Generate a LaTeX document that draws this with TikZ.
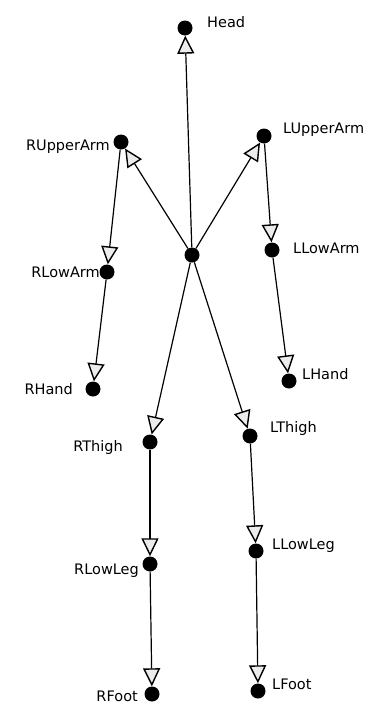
\documentclass[tikz,border=0pt]{standalone}
\usepackage{fontspec}
\setmainfont{DejaVu Sans}
\usetikzlibrary{arrows.meta}
\begin{document}
\begin{tikzpicture}[x=1pt,y=-1pt,
  joint/.style={circle,fill=black,minimum size=15pt,inner sep=0pt},
  bone/.style={line width=1.2pt,-{Triangle[open,length=18pt,width=17pt,fill=gray!15,line width=1.4pt]}},
  lbl/.style={font=\fontsize{14.5}{16}\selectfont,inner sep=0pt}]
\useasboundingbox (0,0) rectangle (388,707);
\node[joint] (root) at (192,255) {};
\node[joint] (head) at (185,28) {};
\node[joint] (rua) at (121,142) {};
\node[joint] (lua) at (264,136) {};
\node[joint] (rla) at (107,272) {};
\node[joint] (lla) at (272,250) {};
\node[joint] (rh) at (93,389) {};
\node[joint] (lh) at (289,381) {};
\node[joint] (rt) at (150,442) {};
\node[joint] (lt) at (250,436) {};
\node[joint] (rll) at (150,564) {};
\node[joint] (lll) at (256,551) {};
\node[joint] (rf) at (152,694) {};
\node[joint] (lf) at (258,691) {};
\node[lbl,anchor=west] (thead) at (207,22) {Head};
\node[lbl,anchor=east] (trua) at (110,147) {RUpperArm};
\node[lbl,anchor=west] (tlua) at (283,130) {LUpperArm};
\node[lbl,anchor=east] (trla) at (100,272) {RLowArm};
\node[lbl,anchor=west] (tlla) at (293,248) {LLowArm};
\node[lbl,anchor=east] (trh) at (73,389) {RHand};
\node[lbl,anchor=west] (tlh) at (302,374) {LHand};
\node[lbl,anchor=east] (trt) at (123,447) {RThigh};
\node[lbl,anchor=west] (tlt) at (270,428) {LThigh};
\node[lbl,anchor=east] (trll) at (139,571) {RLowLeg};
\node[lbl,anchor=west] (tlll) at (272,546) {LLowLeg};
\node[lbl,anchor=east] (trf) at (138,696) {RFoot};
\node[lbl,anchor=west] (tlf) at (272,684) {LFoot};
\draw[bone] (root) -- (head);
\draw[bone] (root) -- (rua);
\draw[bone] (root) -- (lua);
\draw[bone] (rua) -- (rla);
\draw[bone] (rla) -- (rh);
\draw[bone] (lua) -- (lla);
\draw[bone] (lla) -- (lh);
\draw[bone] (root) -- (rt);
\draw[bone] (root) -- (lt);
\draw[bone] (rt) -- (rll);
\draw[bone] (rll) -- (rf);
\draw[bone] (lt) -- (lll);
\draw[bone] (lll) -- (lf);
\end{tikzpicture}
\end{document}
